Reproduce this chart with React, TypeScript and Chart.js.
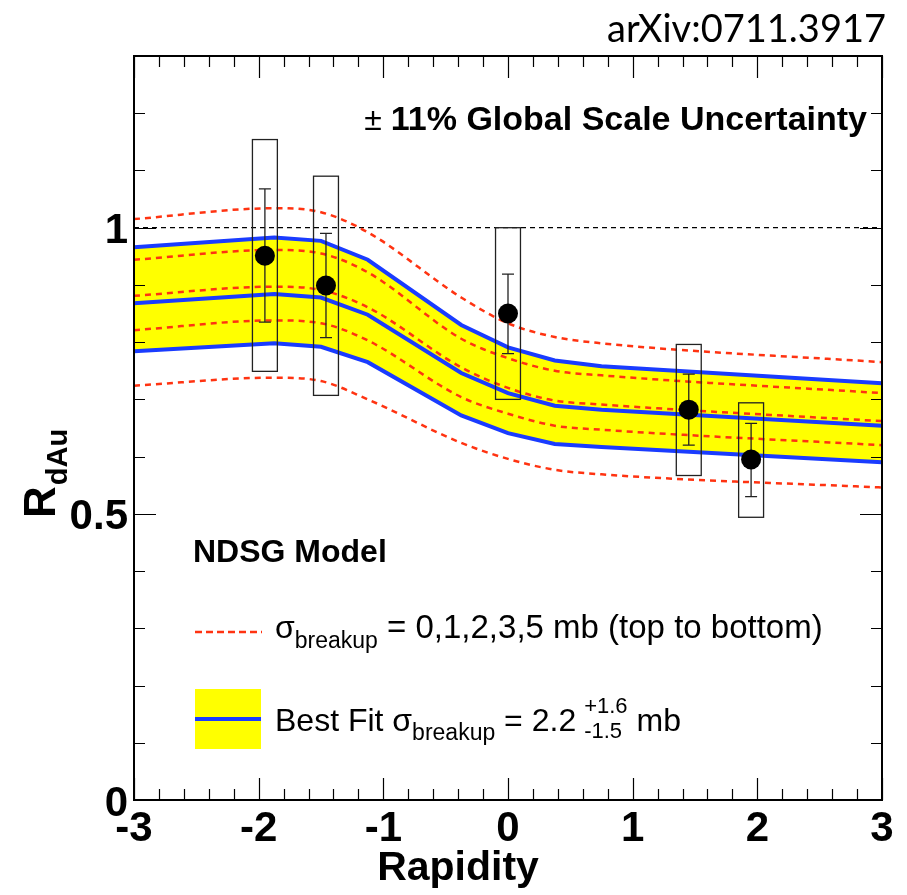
import React, { useEffect, useRef } from "react";
import { Chart, registerables } from "chart.js";
Chart.register(...registerables);

// ---- Data ----
const rapidity = [-1.95, -1.46, 0.0, 1.45, 1.95];
const rdau = [0.951, 0.899, 0.85, 0.682, 0.595];
const statLow = [0.835, 0.808, 0.78, 0.62, 0.53];
const statHigh = [1.068, 0.99, 0.919, 0.744, 0.658];
const sysLow = [0.749, 0.707, 0.7, 0.567, 0.494];
const sysHigh = [1.154, 1.09, 1.0, 0.796, 0.694];
const sysHalfWidth = 0.1;

const modelX = [-3, -1.875, -1.5, -1.125, -0.375, 0, 0.375, 0.75, 3];
const bestFitUpper = [0.966, 0.983, 0.977, 0.944, 0.83, 0.791, 0.768, 0.758, 0.728];
const bestFit = [0.868, 0.884, 0.878, 0.848, 0.746, 0.711, 0.689, 0.682, 0.654];
const bestFitLower = [0.784, 0.798, 0.792, 0.765, 0.672, 0.641, 0.622, 0.617, 0.59];
const sigma0 = [1.015, 1.034, 1.027, 0.992, 0.878, 0.833, 0.809, 0.798, 0.765];
const sigma1 = [0.944, 0.961, 0.955, 0.922, 0.806, 0.772, 0.75, 0.742, 0.711];
const sigma2 = [0.881, 0.897, 0.891, 0.861, 0.756, 0.72, 0.698, 0.691, 0.662];
const sigma3 = [0.821, 0.838, 0.833, 0.803, 0.704, 0.675, 0.654, 0.647, 0.62];
const sigma5 = [0.724, 0.738, 0.732, 0.7, 0.624, 0.596, 0.577, 0.569, 0.546];

const xTicks = [-3, -2, -1, 0, 1, 2, 3];
const yTickLabels = ["0", "0.5", "1"];

const RED = "#ff3311";
const BLUE = "#1a3cff";
const YELLOW = "#ffff00";
const SANS = "'Liberation Sans', Arial, Helvetica, sans-serif";

export default function App() {
  const ref = useRef<HTMLCanvasElement>(null);

  useEffect(() => {
    const canvas = ref.current!;
    const pts = (ys: number[]) => modelX.map((x, i) => ({ x, y: ys[i] }));
    const redLine = (ys: number[]) => ({
      type: "line" as const,
      data: pts(ys),
      showLine: true,
      borderColor: RED,
      borderWidth: 2.5,
      borderDash: [6, 5],
      pointRadius: 0,
      cubicInterpolationMode: "monotone",
      fill: false,
      order: 1,
    });
    const blueLine = (ys: number[], fill: any) => ({
      type: "line" as const,
      data: pts(ys),
      showLine: true,
      borderColor: BLUE,
      borderWidth: 4,
      pointRadius: 0,
      tension: 0,
      fill,
      backgroundColor: YELLOW,
      order: 2,
    });

    const errPlugin = {
      id: "errs",
      beforeDatasetDraw(chart: any, args: any) {
        if (args.index !== 0) return;
        const c = chart.ctx;
        const xs = chart.scales.x;
        const ys = chart.scales.y;
        c.save();
        c.strokeStyle = "#222";
        c.lineWidth = 1.3;
        for (let i = 0; i < rapidity.length; i++) {
          const x0 = xs.getPixelForValue(rapidity[i] - sysHalfWidth);
          const x1 = xs.getPixelForValue(rapidity[i] + sysHalfWidth);
          const yt = ys.getPixelForValue(sysHigh[i]);
          const yb = ys.getPixelForValue(sysLow[i]);
          c.strokeRect(x0, yt, x1 - x0, yb - yt);
          const xc = xs.getPixelForValue(rapidity[i]);
          const et = ys.getPixelForValue(statHigh[i]);
          const eb = ys.getPixelForValue(statLow[i]);
          c.beginPath();
          c.moveTo(xc, et);
          c.lineTo(xc, eb);
          c.moveTo(xc - 6, et);
          c.lineTo(xc + 6, et);
          c.moveTo(xc - 6, eb);
          c.lineTo(xc + 6, eb);
          c.stroke();
        }
        c.restore();
      },
    };

    const framePlugin = {
      id: "frame",
      afterDraw(chart: any) {
        const c = chart.ctx;
        const { left, right, top, bottom } = chart.chartArea;
        const xs = chart.scales.x;
        const ys = chart.scales.y;
        c.save();
        // ticks
        c.strokeStyle = "#000";
        c.lineWidth = 1.2;
        c.beginPath();
        for (let k = 0; k <= 30; k++) {
          const v = -3 + k * 0.2;
          const px = Math.round(xs.getPixelForValue(v)) + 0.5;
          const len = k % 5 === 0 ? 22 : 11;
          c.moveTo(px, bottom);
          c.lineTo(px, bottom - len);
          c.moveTo(px, top);
          c.lineTo(px, top + len);
        }
        for (let k = 0; k <= 13; k++) {
          const v = k * 0.1;
          const py = Math.round(ys.getPixelForValue(v)) + 0.5;
          const len = k % 5 === 0 ? 22 : 11;
          c.moveTo(left, py);
          c.lineTo(left + len, py);
          c.moveTo(right, py);
          c.lineTo(right - len, py);
        }
        c.stroke();
        // frame
        c.lineWidth = 2;
        c.strokeRect(left, top, right - left, bottom - top);

        c.fillStyle = "#000";
        c.textBaseline = "alphabetic";
        // arXiv label
        c.font = "38px Lato, 'Open Sans', sans-serif";
        c.textAlign = "right";
        c.fillText("arXiv:0711.3917", 886, 42);

        // Global scale uncertainty
        c.font = `bold 34px ${SANS}`;
        c.textAlign = "right";
        const gText = "11% Global Scale Uncertainty";
        c.fillText(gText, 867, 130);
        const gw = c.measureText(gText).width;
        c.font = `32px ${SANS}`;
        c.fillText("\u00b1", 867 - gw - 9, 130);

        // x title
        c.font = `bold 41px ${SANS}`;
        c.textAlign = "center";
        c.fillText("Rapidity", 458, 880);

        // y title
        c.save();
        c.translate(55, 518);
        c.rotate(-Math.PI / 2);
        c.textAlign = "left";
        c.font = `bold 44px ${SANS}`;
        c.fillText("R", 0, 0);
        const rw = c.measureText("R").width;
        c.font = `bold 29px ${SANS}`;
        c.fillText("dAu", rw + 1, 12);
        c.restore();

        // Legend
        c.textAlign = "left";
        c.font = `bold 32px ${SANS}`;
        c.fillText("NDSG Model", 193, 562);

        // row 1
        c.save();
        c.strokeStyle = RED;
        c.lineWidth = 2.5;
        c.setLineDash([7, 4]);
        c.beginPath();
        c.moveTo(195, 632);
        c.lineTo(262, 632);
        c.stroke();
        c.restore();
        let x = 275;
        c.font = `32px ${SANS}`;
        c.fillText("\u03c3", x, 638);
        x += c.measureText("\u03c3").width;
        c.font = `23px ${SANS}`;
        c.fillText("breakup", x, 648);
        x += c.measureText("breakup").width;
        c.font = `33px ${SANS}`;
        c.fillText(" = 0,1,2,3,5 mb (top to bottom)", x, 638);

        // row 2
        c.fillStyle = YELLOW;
        c.fillRect(195, 689, 66, 60);
        c.fillStyle = BLUE;
        c.fillRect(195, 717, 66, 4);
        c.fillStyle = "#000";
        x = 275;
        c.font = `32px ${SANS}`;
        c.fillText("Best Fit \u03c3", x, 731);
        x += c.measureText("Best Fit \u03c3").width;
        c.font = `23px ${SANS}`;
        c.fillText("breakup", x, 740);
        x += c.measureText("breakup").width;
        c.font = `32px ${SANS}`;
        c.fillText(" = 2.2", x, 731);
        x += c.measureText(" = 2.2").width + 8;
        c.font = `22px ${SANS}`;
        c.fillText("+1.6", x, 713);
        const sw = Math.max(c.measureText("+1.6").width, c.measureText("-1.5").width);
        c.fillText("-1.5", x, 738);
        x += sw;
        c.font = `32px ${SANS}`;
        c.fillText(" mb", x, 731);

        c.restore();
      },
    };

    const chart = new Chart(canvas, {
      type: "scatter",
      data: {
        datasets: [
          {
            label: "PHENIX",
            data: rapidity.map((x, i) => ({ x, y: rdau[i] })),
            pointRadius: 10,
            pointBackgroundColor: "#000",
            pointBorderWidth: 0,
            showLine: false,
            order: 0,
          } as any,
          redLine(sigma0),
          redLine(sigma1),
          redLine(sigma2),
          redLine(sigma3),
          redLine(sigma5),
          {
            type: "line",
            data: [
              { x: -3, y: 1 },
              { x: 3, y: 1 },
            ],
            showLine: true,
            borderColor: "#000",
            borderWidth: 1.2,
            borderDash: [5, 4],
            pointRadius: 0,
            fill: false,
            order: 1,
          },
          blueLine(bestFitUpper, 9),
          blueLine(bestFit, false),
          blueLine(bestFitLower, false),
        ],
      },
      options: {
        animation: false,
        responsive: false,
        events: [],
        layout: { padding: { top: 56, right: 25, left: 0, bottom: 0 } },
        plugins: {
          legend: { display: false },
          tooltip: { enabled: false },
          title: { display: false },
          filler: { drawTime: "beforeDatasetsDraw" },
        } as any,
        scales: {
          x: {
            type: "linear",
            min: -3,
            max: 3,
            grid: { display: false, drawTicks: false },
            border: { display: false },
            afterFit: (s: any) => {
              s.height = 95;
              s.paddingLeft = 0;
              s.paddingRight = 0;
            },
            afterBuildTicks: (s: any) => {
              s.ticks = xTicks.map((v) => ({ value: v }));
            },
            ticks: {
              font: { family: SANS, size: 42, weight: "bold" },
              color: "#000",
              padding: 4,
              maxRotation: 0,
              autoSkip: false,
              callback: (v: any) => String(v),
            },
          },
          y: {
            type: "linear",
            min: 0,
            max: 1.3,
            grid: { display: false, drawTicks: false },
            border: { display: false },
            afterFit: (s: any) => {
              s.width = 134;
              s.paddingTop = 0;
              s.paddingBottom = 0;
            },
            afterBuildTicks: (s: any) => {
              s.ticks = [0, 0.5, 1].map((v) => ({ value: v }));
            },
            ticks: {
              font: { family: SANS, size: 42, weight: "bold" },
              color: "#000",
              padding: 6,
              labelOffset: 4,
              autoSkip: false,
              callback: (v: any) => yTickLabels[Math.round(Number(v) * 2)],
            },
          },
        },
      },
      plugins: [errPlugin, framePlugin],
    } as any);
    return () => chart.destroy();
  }, []);

  return (
    <div
      style={{
        position: "absolute",
        left: 0,
        top: 0,
        width: 907,
        height: 895,
        background: "#fff",
      }}
    >
      <canvas ref={ref} width={907} height={895} style={{ width: 907, height: 895, display: "block" }} />
    </div>
  );
}
